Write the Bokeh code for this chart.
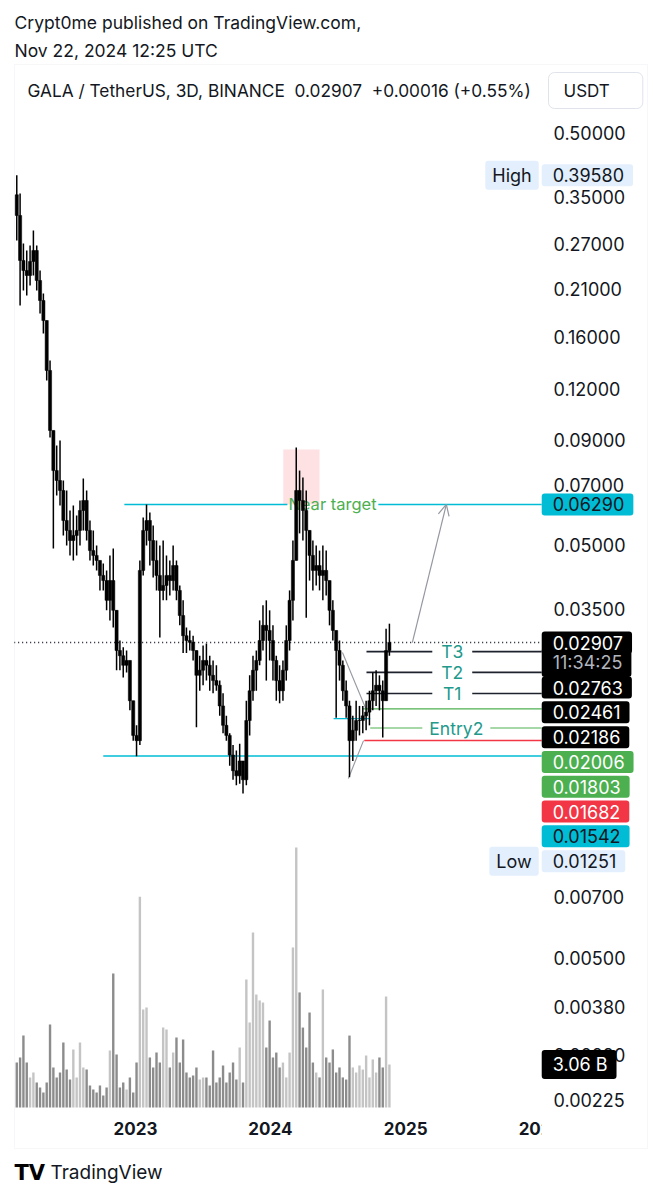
import math
import pandas as pd
from bokeh.plotting import figure
from bokeh.models import (Range1d, LinearScale, FixedTicker, NumeralTickFormatter,
                          CustomJSTickFormatter, Label, Arrow, OpenHead, BoxAnnotation)
from bokeh.embed import file_html
from bokeh.resources import INLINE
from bokeh.core.properties import value

# ---------------- data (9-day buckets of 3D candles, GALA/USDT) ----------------
highs = [0.3958, 0.3576, 0.2704, 0.2600, 0.2674, 0.2908, 0.2674, 0.2325, 0.2045, 0.1758,
         0.1406, 0.0914, 0.0874, 0.0899, 0.0719, 0.0680, 0.0608, 0.0625, 0.0591, 0.0643,
         0.0727, 0.0680, 0.0575, 0.0544, 0.0500, 0.0460, 0.0452, 0.0435, 0.0473, 0.0492,
         0.0348, 0.0294, 0.0283, 0.0278, 0.0256, 0.0210, 0.0183, 0.0460, 0.0585, 0.0629,
         0.0601, 0.0559, 0.0514, 0.0500, 0.0514, 0.0473, 0.0460, 0.0500, 0.0460, 0.0400,
         0.0368, 0.0316, 0.0311, 0.0302, 0.0278, 0.0270, 0.0286, 0.0289, 0.0270, 0.0263,
         0.0256, 0.0235, 0.0219, 0.0193, 0.0175, 0.0164, 0.0159, 0.0165, 0.0150, 0.0210,
         0.0242, 0.0270, 0.0278, 0.0329, 0.0358, 0.0368, 0.0348, 0.0320, 0.0270, 0.0256,
         0.0263, 0.0320, 0.0389, 0.0514, 0.0865, 0.0760, 0.0731, 0.0680, 0.0529, 0.0514,
         0.0500, 0.0486, 0.0500, 0.0486, 0.0411, 0.0368, 0.0311, 0.0294, 0.0263, 0.0235,
         0.0210, 0.0193, 0.0210, 0.0204, 0.0204, 0.0210, 0.0222, 0.0246, 0.0249, 0.0242,
         0.0235, 0.0314, 0.0323]
lows = [0.2750, 0.1912, 0.2079, 0.2022, 0.2138, 0.2261, 0.2079, 0.1829, 0.1635, 0.1258,
        0.0914, 0.0492, 0.0661, 0.0625, 0.0529, 0.0500, 0.0473, 0.0460, 0.0473, 0.0500,
        0.0544, 0.0514, 0.0460, 0.0447, 0.0435, 0.0389, 0.0389, 0.0348, 0.0329, 0.0316,
        0.0249, 0.0249, 0.0239, 0.0246, 0.0199, 0.0168, 0.0154, 0.0164, 0.0423, 0.0500,
        0.0447, 0.0418, 0.0389, 0.0299, 0.0368, 0.0368, 0.0378, 0.0389, 0.0368, 0.0320,
        0.0274, 0.0274, 0.0278, 0.0263, 0.0181, 0.0222, 0.0229, 0.0235, 0.0222, 0.0219,
        0.0222, 0.0193, 0.0175, 0.0168, 0.0146, 0.0135, 0.0131, 0.0132, 0.01251, 0.0131,
        0.0173, 0.0210, 0.0222, 0.0256, 0.0278, 0.0235, 0.0263, 0.0235, 0.0210, 0.0207,
        0.0210, 0.0235, 0.0278, 0.0329, 0.0460, 0.0535, 0.0514, 0.0334, 0.0411, 0.0389,
        0.0400, 0.0389, 0.0368, 0.0378, 0.0320, 0.0294, 0.0191, 0.0235, 0.0210, 0.0191,
        0.0137, 0.0150, 0.0168, 0.0173, 0.0175, 0.0178, 0.0183, 0.0199, 0.0204, 0.0199,
        0.0171, 0.0210, 0.0270]
closes = [0.3162, 0.2459, 0.2325, 0.2261, 0.2445, 0.2600, 0.2199, 0.1966, 0.1758, 0.1330,
          0.0951, 0.0760, 0.0719, 0.0680, 0.0575, 0.0544, 0.0514, 0.0529, 0.0544, 0.0608,
          0.0643, 0.0544, 0.0486, 0.0473, 0.0460, 0.0423, 0.0411, 0.0368, 0.0411, 0.0348,
          0.0278, 0.0270, 0.0256, 0.0263, 0.0210, 0.0173, 0.0168, 0.0435, 0.0544, 0.0575,
          0.0514, 0.0460, 0.0423, 0.0389, 0.0400, 0.0423, 0.0411, 0.0447, 0.0389, 0.0338,
          0.0302, 0.0294, 0.0291, 0.0278, 0.0242, 0.0249, 0.0263, 0.0256, 0.0242, 0.0235,
          0.0229, 0.0204, 0.0183, 0.0173, 0.0155, 0.0142, 0.0138, 0.0150, 0.0135, 0.0188,
          0.0222, 0.0249, 0.0263, 0.0294, 0.0320, 0.0311, 0.0294, 0.0263, 0.0235, 0.0222,
          0.0249, 0.0294, 0.0368, 0.0460, 0.0680, 0.0643, 0.0608, 0.0544, 0.0473, 0.0435,
          0.0447, 0.0423, 0.0435, 0.0411, 0.0348, 0.0311, 0.0278, 0.0256, 0.0222, 0.0204,
          0.0168, 0.0178, 0.0188, 0.0188, 0.0193, 0.0197, 0.0210, 0.0222, 0.0229, 0.0222,
          0.0210, 0.0278, 0.02907]
first_open = 0.3550
volume_b = [3.2, 3.56, 5.12, 3.2, 2.14, 2.49, 1.78, 1.42, 1.07, 1.78,
            5.91, 2.85, 2.14, 2.49, 4.63, 2.7, 1.99, 4.13, 2.14, 4.63,
            2.85, 2.7, 1.57, 1.28, 1.07, 1.57, 0.85, 1.42, 4.06, 9.54,
            3.77, 1.42, 1.78, 1.28, 2.14, 1.07, 3.2, 15.0, 6.98, 7.12,
            3.56, 2.85, 3.91, 3.2, 5.69, 5.55, 2.85, 3.91, 4.98, 3.2,
            4.84, 2.49, 2.14, 2.28, 2.85, 1.99, 2.14, 2.14, 1.57, 4.06,
            1.78, 2.14, 2.99, 1.78, 2.49, 3.2, 1.99, 4.27, 1.78, 9.11,
            6.05, 12.46, 8.04, 7.62, 7.47, 4.27, 6.19, 3.56, 3.91, 2.85,
            3.2, 2.14, 3.91, 11.39, 18.5, 8.19, 5.69, 4.27, 6.76, 3.2,
            2.49, 2.14, 8.4, 3.56, 3.2, 4.13, 2.49, 2.85, 2.14, 1.99,
            5.12, 2.85, 2.49, 2.99, 2.7, 3.7, 2.14, 3.42, 2.49, 3.56,
            2.85, 7.9, 3.06]
last_price = 0.02907
last_volume = 3.06
high_value = 0.39580
low_value = 0.01251
price_ticks = [0.5, 0.35, 0.27, 0.21, 0.16, 0.12, 0.09, 0.07, 0.05, 0.035,
               0.007, 0.005, 0.0038, 0.0029, 0.00225]
year_ticks = ["2023-01-01", "2024-01-01", "2025-01-01", "2026-01-01"]

# user drawings (levels)
target_level = 0.0629
support_level = 0.01542
mini_level = 0.0190
t_levels = [0.02763, 0.02461, 0.02186]
t_names = ["T3", "T2", "T1"]
entry1_level = 0.02006
entry2_level = 0.01803
stop_level = 0.01682

FONT = "Inter"
DARK = "#131722"
TEAL = "#22998b"
GREEN = "#4caf50"
RED = "#f23645"
CYAN = "#00bcd4"
GREY = "#9598a1"
PALE = "#e3effd"


def ms(s):
    return pd.Timestamp(s).value / 1e6


N = len(closes)
dates = pd.date_range(end="2024-11-18", periods=N, freq="9D")
opens = [first_open] + closes[:-1]
STEP = 9 * 86400000

W, H = 661, 1200
X0, X1 = ms("2022-01-01"), ms("2026-11-24")
X_EDGE = ms("2026-01-04")          # left edge of the price scale strip
Y_BOT, Y_TOP = 0.0012858, 1.0514
VOL_PX_PER_B = 14.05
VOL_LO, VOL_HI = -93 / VOL_PX_PER_B, 1107 / VOL_PX_PER_B

p = figure(width=W, height=H, x_axis_type="datetime", y_axis_type="log",
           y_axis_location="right", x_range=Range1d(X0, X1),
           y_range=Range1d(Y_BOT, Y_TOP), output_backend="svg",
           toolbar_location=None, min_border_left=0, min_border_right=0,
           min_border_top=0, min_border_bottom=0)
p.grid.visible = False
p.outline_line_color = None
p.background_fill_color = "white"
p.border_fill_color = "white"

p.extra_y_ranges = {"vol": Range1d(VOL_LO, VOL_HI)}
p.extra_y_scales = {"vol": LinearScale()}

# price axis (labels drawn inward, inside the price-scale strip)
ya = p.yaxis[0]
ya.ticker = FixedTicker(ticks=price_ticks)
ya.formatter = NumeralTickFormatter(format="0.00000")
ya.axis_line_color = None
ya.major_tick_line_color = None
ya.minor_tick_line_color = None
ya.major_tick_out = 0
ya.major_tick_in = 0
ya.major_label_standoff = -108
ya.major_label_text_font = FONT
ya.major_label_text_font_size = "18px"
ya.major_label_text_color = DARK

xa = p.xaxis[0]
xa.ticker = FixedTicker(ticks=[ms(t) for t in year_ticks])
xa.formatter = CustomJSTickFormatter(code="return String(new Date(tick).getUTCFullYear())")
xa.axis_line_color = None
xa.major_tick_line_color = None
xa.minor_tick_line_color = None
xa.major_tick_out = 0
xa.major_tick_in = 0
xa.major_label_standoff = -79
xa.major_label_text_font = FONT
xa.major_label_text_font_size = "17px"
xa.major_label_text_font_style = "bold"
xa.major_label_text_color = DARK

# volume
vcol = ["#c4c4c4" if c >= o else "#8c8c8c" for o, c in zip(opens, closes)]
p.vbar(x=dates, top=volume_b, bottom=0, width=STEP * 0.72, fill_color=vcol,
       line_color=None, y_range_name="vol")

# pink zone
p.quad(left=[ms("2024-02-05")], right=[ms("2024-05-13")], bottom=[target_level],
       top=[0.0855], fill_color=RED, fill_alpha=0.15, line_color=None)


# horizontal drawings
def hseg(y, x0, x1, color, w=1.4, dash="solid"):
    p.segment(x0=[x0], y0=[y], x1=[x1], y1=[y], line_color=color, line_width=w,
              line_dash=dash)


hseg(target_level, ms("2022-12-02"), ms("2024-02-16"), CYAN)
hseg(target_level, ms("2024-10-19"), X_EDGE, CYAN)
hseg(support_level, ms("2022-10-06"), X_EDGE, CYAN)
hseg(mini_level, ms("2024-06-20"), ms("2024-09-27"), CYAN)
for lv in t_levels:
    hseg(lv, ms("2024-09-17"), ms("2025-03-14"), "#1e222d", 1.6)
    hseg(lv, ms("2025-06-30"), X_EDGE, "#1e222d", 1.6)
hseg(entry1_level, ms("2024-09-06"), X_EDGE, GREEN, 1.2)
hseg(entry2_level, ms("2024-09-27"), ms("2025-02-15"), GREEN, 1.2)
hseg(entry2_level, ms("2025-08-18"), X_EDGE, GREEN, 1.2)
hseg(stop_level, ms("2024-09-11"), X_EDGE, RED, 1.6)
hseg(last_price, ms("2022-02-07"), X_EDGE, DARK, 1.4, "1 3")

# wedge lines
p.segment(x0=[ms("2024-07-14"), ms("2024-07-30")], y0=[0.0275, 0.0136],
          x1=[ms("2024-09-15"), ms("2024-09-09")], y1=[0.0201, 0.0168],
          line_color=GREY, line_width=1.1)

# target text (under the candles)
p.text(x=[ms("2024-06-17")], y=[target_level], text=["Near target"],
       text_align="center", text_baseline="middle", text_font=value(FONT),
       text_font_size="16.5px", text_color=GREEN)

# candles
hi_eff = [max(h, o, c) for h, o, c in zip(highs, opens, closes)]
lo_eff = [min(l, o, c) for l, o, c in zip(lows, opens, closes)]
p.segment(x0=dates, y0=lo_eff, x1=dates, y1=hi_eff, line_color="black", line_width=1.5)
p.vbar(x=dates, bottom=[min(o, c) for o, c in zip(opens, closes)],
       top=[max(o, c) for o, c in zip(opens, closes)], width=STEP * 0.95,
       fill_color="black", line_color="black", line_width=0.5)

# arrow
p.add_layout(Arrow(end=OpenHead(size=11, line_color=GREY, line_width=1.2),
                   x_start=ms("2025-01-19"), y_start=last_price,
                   x_end=ms("2025-04-21"), y_end=target_level,
                   line_color=GREY, line_width=1.2))


# drawing texts
def dtext(x, y, t, color, size):
    p.add_layout(Label(x=x, y=y, text=t, text_align="center", text_baseline="middle",
                       text_font=FONT, text_font_size=size, text_color=color))


for lv, nm in zip(t_levels, t_names):
    dtext(ms("2025-05-07"), lv, nm, TEAL, "17.5px")
dtext(ms("2025-05-18"), entry2_level, "Entry2", TEAL, "17.5px")

# hide the part of the last year label that falls under the price scale
p.add_layout(BoxAnnotation(left=X_EDGE, right=X1, bottom=45, top=86,
                           bottom_units="screen", top_units="screen",
                           fill_color="white", fill_alpha=1.0, line_color=None,
                           level="overlay"))

# pane border
p.add_layout(BoxAnnotation(left=14, right=647, bottom=52, top=1136,
                           left_units="screen", right_units="screen",
                           bottom_units="screen", top_units="screen",
                           fill_alpha=0, line_color="#e0e3eb", line_width=1,
                           level="overlay"))

# price scale tags
LT, LB = math.log10(Y_TOP), math.log10(Y_BOT)


def py(v):
    return (LT - math.log10(v)) / (LT - LB) * H


TAG_FS = "18px"


def tag(text, y, bg, fg, y_off=0.0, rng="default", x_off=0, align="left",
        pad=(11, 9)):
    p.add_layout(Label(x=X_EDGE, y=y, y_range_name=rng, text=text, x_offset=x_off,
                       y_offset=y_off, text_align=align, text_baseline="middle",
                       text_font=FONT, text_font_size=TAG_FS, text_color=fg,
                       background_fill_color=bg,
                       padding=dict(left=pad[0], right=pad[1], top=4, bottom=4),
                       border_radius=3, level="overlay"))


tag(f"{high_value:.5f}", high_value, PALE, DARK)
tag("High", high_value, PALE, DARK, x_off=-3, align="right", pad=(7, 7))
tag(f"{target_level:.5f}", target_level, CYAN, DARK)
tag("11:34:25", last_price, "#000000", "#b2b5be", y_off=-20)
tag(f"{last_price:.5f}", last_price, "#000000", "white")

stack = [(t_levels[0], "#000000", "white"), (t_levels[1], "#000000", "white"),
         (t_levels[2], "#000000", "white"), (entry1_level, GREEN, "white"),
         (entry2_level, GREEN, "white"), (stop_level, RED, "white"),
         (support_level, CYAN, DARK), (low_value, PALE, DARK)]
base = py(last_price) + 45
for k, (lv, bg, fg) in enumerate(stack):
    off = py(lv) - (base + 24.8 * k)
    tag(f"{lv:.5f}", lv, bg, fg, y_off=off)
    if lv == low_value:
        tag("Low", lv, PALE, DARK, y_off=off, x_off=-3, align="right", pad=(7, 7))

tag(f"{last_volume:.2f} B", last_volume, "#000000", "white", rng="vol")


# header / footer texts (screen units, origin bottom-left)
def head(x, y, t, size, color=DARK, style="normal", font=FONT):
    p.add_layout(Label(x=x, y=y, x_units="screen", y_units="screen", text=t,
                       text_font=font, text_font_size=size, text_font_style=style,
                       text_color=color, text_baseline="middle", text_align="left"))


head(14, 1178, "Crypt0me published on TradingView.com,", "17.5px")
head(14, 1150, "Nov 22, 2024 12:25 UTC", "17.5px")
head(27, 1110, "GALA / TetherUS, 3D, BINANCE \u00a00.02907 \u00a0+0.00016 (+0.55%)", "17.3px")
p.add_layout(Label(x=548, y=1110, x_units="screen", y_units="screen", text="USDT",
                   text_font=FONT, text_font_size="17px", text_color=DARK,
                   text_baseline="middle", background_fill_color="white",
                   border_line_color="#e0e3eb", border_radius=6,
                   padding=dict(left=15, right=33, top=8, bottom=8)))
head(14, 28, "TV", "21px", color="#000000", style="bold", font="DejaVu Sans")
head(50, 28, "TradingView", "19px")

open("out.html", "w").write(file_html(p, INLINE))
